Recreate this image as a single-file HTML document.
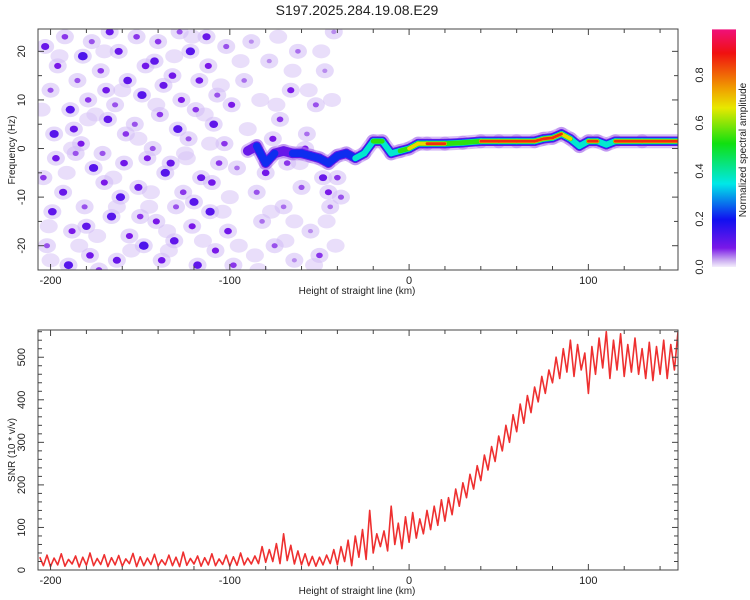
<!DOCTYPE html>
<html><head><meta charset="utf-8"><style>
html,body{margin:0;padding:0;background:#fff;}
svg{display:block;font-family:"Liberation Sans",sans-serif;}
</style></head><body>
<svg id="c" width="750" height="600" xmlns="http://www.w3.org/2000/svg">
<defs>
<clipPath id="clipTop"><rect x="38" y="29" width="640" height="241"/></clipPath>
<clipPath id="clipBot"><rect x="38" y="330" width="640" height="240"/></clipPath>
<linearGradient id="cbar" x1="0" y1="1" x2="0" y2="0">
<stop offset="0" stop-color="#f4eefc"/>
<stop offset="0.03" stop-color="#c8a8f0"/>
<stop offset="0.08" stop-color="#7a18e8"/>
<stop offset="0.2" stop-color="#1010f0"/>
<stop offset="0.35" stop-color="#00e8e8"/>
<stop offset="0.52" stop-color="#10e010"/>
<stop offset="0.67" stop-color="#e8e800"/>
<stop offset="0.75" stop-color="#f0a000"/>
<stop offset="0.9" stop-color="#f01010"/>
<stop offset="1" stop-color="#f0107a"/>
</linearGradient>
</defs>
<text x="357" y="15" font-size="14" text-anchor="middle" fill="#222">S197.2025.284.19.08.E29</text>
<g id="topPanel"></g>
<g id="botPanel"></g>
<g id="cbPanel"></g>
</svg>
<script>
// ---- data ----
const xDomain = [-207, 150];
const fDomain = [-25, 24.6];
const snrDomain = [0, 564];
const snrStartKm = -206;
const snrStepKm = 2;
const snrValues = [
30,10,35,8,28,12,38,9,25,14,
33,7,30,11,40,10,27,13,36,8,
29,12,34,9,26,15,39,8,31,10,
28,13,37,9,24,12,35,10,30,8,
42,11,27,14,33,9,29,12,38,10,
26,13,35,9,31,11,40,12,28,14,
33,15,55,18,48,20,62,15,85,22,
58,14,45,12,38,10,32,9,30,12,
35,15,48,12,55,20,70,10,80,30,
95,25,140,40,85,55,92,45,150,60,
110,50,125,65,135,75,120,85,140,95,
150,105,165,115,170,130,190,150,205,170,
225,190,245,210,270,235,290,255,315,280,
340,300,365,325,390,345,410,370,430,395,
455,415,470,440,500,450,520,465,540,455,
530,470,510,415,525,460,545,475,560,450,
540,470,555,455,530,465,545,460,520,450,
535,445,525,460,540,450,530,470,560];
const ridgeX = [-90,-85,-80,-75,-70,-65,-60,-55,-50,-45,-40,-35,-30,-25,-20,-15,-10,-5,0,5,10,20,30,40,50,60,70,75,80,85,90,95,100,105,110,115,130,150];
const ridgeF = [-0.5,0.5,-3,-1,-0.5,-1,-1,-1.5,-2,-3,-1.5,-1,-2,-1,1.5,1.5,-1,-0.5,0,1,1,1,1.2,1.5,1.5,1.5,1.5,2,2.2,3,2,0.5,1.5,1.5,0.8,1.5,1.5,1.5];
const ridgeAmp = [0.15,0.2,0.3,0.2,0.18,0.2,0.22,0.2,0.2,0.3,0.25,0.3,0.5,0.45,0.6,0.6,0.5,0.55,0.8,0.7,0.9,0.85,0.6,0.95,0.97,0.97,0.95,0.9,0.92,0.9,0.75,0.5,0.88,0.88,0.4,0.95,0.97,0.95];
const blobX = [-203,-200,-198,-204,-199,-202,-196,-197,-192,-189,-186,-193,-188,-190,-185,-187,-182,-179,-176,-181,-178,-183,-177,-180,-172,-168,-170,-166,-173,-167,-171,-169,-162,-158,-161,-156,-164,-157,-159,-163,-152,-149,-146,-151,-148,-153,-147,-150,-142,-139,-136,-141,-138,-143,-137,-140,-132,-129,-126,-131,-128,-133,-127,-130,-122,-119,-116,-121,-118,-123,-117,-120,-112,-109,-106,-111,-108,-113,-107,-110,-102,-99,-96,-101,-98,-103,-92,-88,-85,-82,-78,-75,-72,-70,-66,-64,-62,-60,-57,-55,-52,-50,-47,-44,-42,-40,-38,-80,-76,-68,-58,-48,-45];
const blobF = [21,12,3,-6,-13,-20,17,-2,23,8,-1,-9,-17,-24,14,4,19,10,-4,-12,-22,1,22,-16,16,6,-7,-14,-25,24,-1,12,20,3,-10,-18,9,14,-3,-23,23,11,-2,-8,-20,5,17,-14,18,7,-5,-15,-23,0,13,22,15,4,-9,-19,24,-3,10,-12,20,8,-6,-16,-24,2,14,-11,17,5,-3,-13,-21,23,11,-7,21,9,-4,-17,-24,1,14,22,-9,-15,18,-20,6,-12,12,-23,20,-8,3,-17,9,-22,16,-12,24,-6,-10,-5,2,-3,0,-6,-9];
const blobAmp = [.1,.06,.12,.07,.11,.06,.08,.09,.07,.12,.06,.1,.08,.12,.06,.1,.13,.07,.12,.06,.09,.08,.06,.11,.07,.11,.08,.12,.07,.1,.06,.09,.1,.07,.12,.08,.06,.11,.09,.1,.07,.12,.08,.1,.13,.06,.09,.07,.11,.07,.12,.08,.09,.06,.1,.07,.09,.12,.07,.11,.06,.1,.08,.06,.12,.07,.1,.08,.11,.06,.09,.12,.08,.11,.07,.12,.08,.1,.06,.09,.06,.08,.05,.09,.07,.07,.05,.04,.06,.05,.04,.06,.07,.05,.08,.04,.05,.06,.05,.04,.06,.07,.04,.05,.04,.07,.06,.09,.08,.07,.08,.1,.08];
const faintX = [-205,-201,-195,-191,-184,-179,-174,-170,-165,-160,-155,-151,-145,-141,-135,-131,-125,-121,-115,-111,-105,-100,-95,-90,-86,-83,-77,-73,-69,-65,-61,-56,-53,-49,-46,-43,-41,-200,-188,-175,-163,-144,-134,-124,-114,-104,-94,-84,-74,-64];
const faintF = [8,-16,19,-5,-20,6,-18,20,-6,12,-21,2,-12,9,-17,19,-1,23,-19,1,13,-10,-20,4,-22,10,-13,23,-19,16,-3,12,-24,20,-15,10,-20,-23,0,7,-12,-9,-21,-2,7,-13,18,-25,9,-15];
const xTicks = [-200,-100,0,100];
const fTicks = [-20,-10,0,10,20];
const snrTicks = [0,100,200,300,400,500];
const cbTicks = [0,0.2,0.4,0.6,0.8];
const cbTickLabels = ["0.0","0.2","0.4","0.6","0.8"];

// ---- layout ----
const L=38,R=678,T1=29,B1=270,T2=330,B2=570;
const NS="http://www.w3.org/2000/svg";
const sx = v => L + (v-xDomain[0])/(xDomain[1]-xDomain[0])*(R-L);
const sf = v => B1 - (v-fDomain[0])/(fDomain[1]-fDomain[0])*(B1-T1);
const ss = v => B2 - (v-snrDomain[0])/(snrDomain[1]-snrDomain[0])*(B2-T2);
const cmStops=[[0,[244,238,252]],[0.03,[200,168,240]],[0.08,[122,24,232]],[0.2,[16,16,240]],[0.35,[0,232,232]],[0.52,[16,224,16]],[0.67,[232,232,0]],[0.75,[240,160,0]],[0.9,[240,16,16]],[1,[240,16,122]]];
function cmap(v){v=Math.max(0,Math.min(1,v));for(let i=1;i<cmStops.length;i++){if(v<=cmStops[i][0]){const a=cmStops[i-1],b=cmStops[i],t=(v-a[0])/(b[0]-a[0]);return 'rgb('+a[1].map((c,k)=>Math.round(c+(b[1][k]-c)*t)).join(',')+')';}}return 'rgb(240,16,122)';}
function mk(tag,attrs,parent){const e=document.createElementNS(NS,tag);for(const k in attrs)e.setAttribute(k,attrs[k]);parent.appendChild(e);return e;}

const panelTop=document.getElementById('topPanel'), panelBot=document.getElementById('botPanel'), panelCb=document.getElementById('cbPanel');

// ---- spectrogram ----
const gT=mk('g',{'clip-path':'url(#clipTop)'},panelTop);


for(let i=0;i<faintX.length;i++){
  const h=mk('ellipse',{cx:sx(faintX[i]),cy:sf(faintF[i]),rx:9,ry:7,fill:'rgba(215,195,245,0.55)'},gT);
  
  
}
for(let i=0;i<blobX.length;i++){
  const h=mk('ellipse',{cx:sx(blobX[i]),cy:sf(blobF[i]),rx:9,ry:7.5,fill:'rgba(210,188,245,0.55)'},gT);
  
  
}
for(let i=0;i<blobX.length;i++){
  const r=1.5+blobAmp[i]*26;
  const c=mk('ellipse',{cx:sx(blobX[i]),cy:sf(blobF[i]),rx:r,ry:r*0.85,fill:cmap(blobAmp[i])},gT);
  
  
}
const levels=[0.03,0.08,0.2,0.35,0.52,0.67,0.85];
const widths=[14,9.5,7.5,6,4.8,3.8,2.8];
levels.forEach((lv,li)=>{
  for(let i=0;i<ridgeX.length-1;i++){
    const a=Math.min(ridgeAmp[i],ridgeAmp[i+1]);
    if(a<lv) continue;
    const ln=mk('line',{x1:sx(ridgeX[i]),y1:sf(ridgeF[i]),x2:sx(ridgeX[i+1]),y2:sf(ridgeF[i+1]),stroke:cmap(lv+0.02),'stroke-width':widths[li],'stroke-linecap':'round',opacity:li===0?0.45:1},gT);
    
    
  }
});

// ---- SNR line ----
let d='';
snrValues.forEach((v,i)=>{d+=(i?'L':'M')+sx(snrStartKm+i*snrStepKm).toFixed(1)+','+ss(v).toFixed(1);});
const gB=mk('g',{'clip-path':'url(#clipBot)'},panelBot);
const pl=mk('path',{d:d,fill:'none',stroke:'#ee3030','stroke-width':1.6,'stroke-linejoin':'round'},gB);



// ---- axes ----
function frame(parent,t,b,name){
  const r=mk('rect',{x:L,y:t,width:R-L,height:b-t,fill:'none',stroke:'#444','stroke-width':1},parent);
  
  
}
function xAxis(parent,t,b,ly){
  for(let v=-200;v<=150;v+=20){
    const x=sx(v),len=(v%100===0)?6:4;
    mk('line',{x1:x,y1:b,x2:x,y2:b-len,stroke:'#444'},parent);
    mk('line',{x1:x,y1:t,x2:x,y2:t+len,stroke:'#444'},parent);
  }
  xTicks.forEach(v=>{
    const tx=mk('text',{x:sx(v),y:ly,'font-size':11,'text-anchor':'middle',fill:'#222'},parent);
    tx.textContent=String(v);
    
    
  });
  const xt=mk('text',{x:357,y:ly+10,'font-size':10,'text-anchor':'middle',fill:'#222'},parent);
  xt.textContent='Height of straight line (km)';
  
  
}
frame(panelTop,T1,B1,'spectrogram-frame');
xAxis(panelTop,T1,B1,284);
for(let v=-25;v<=25;v+=5){const y=sf(v);if(y<T1||y>B1)continue;const len=(v%10===0)?6:4;
  mk('line',{x1:L,y1:y,x2:L+len,y2:y,stroke:'#444'},panelTop);mk('line',{x1:R,y1:y,x2:R-len,y2:y,stroke:'#444'},panelTop);}
fTicks.forEach(v=>{
  const y=sf(v);
  const tx=mk('text',{x:25,y:y,'font-size':11,'text-anchor':'middle',fill:'#222',transform:'rotate(-90 25 '+y+')'},panelTop);
  tx.textContent=String(v);
  
  
});
const yt=mk('text',{x:15,y:150,'font-size':10,'text-anchor':'middle',fill:'#222',transform:'rotate(-90 15 150)'},panelTop);
yt.textContent='Frequency (Hz)';



frame(panelBot,T2,B2,'snr-frame');
xAxis(panelBot,T2,B2,584);
for(let v=0;v<=560;v+=20){const y=ss(v);const len=(v%100===0)?6:4;
  mk('line',{x1:L,y1:y,x2:L+len,y2:y,stroke:'#444'},panelBot);mk('line',{x1:R,y1:y,x2:R-len,y2:y,stroke:'#444'},panelBot);}
snrTicks.forEach(v=>{
  const y=ss(v);
  const tx=mk('text',{x:25,y:y,'font-size':11,'text-anchor':'middle',fill:'#222',transform:'rotate(-90 25 '+y+')'},panelBot);
  tx.textContent=String(v);
  
  
});
const st=mk('text',{x:15,y:450,'font-size':10,'text-anchor':'middle',fill:'#222',transform:'rotate(-90 15 450)'},panelBot);
st.textContent='SNR (10 * v/v)';



// ---- colorbar ----
const cbY0=267, cbPer=240;
const cr=mk('rect',{x:712,y:cbY0-cbPer*0.99,width:24,height:cbPer*0.99,fill:'url(#cbar)'},panelCb);


cbTicks.forEach((v,i)=>{
  const y=cbY0-v*cbPer;
  const tx=mk('text',{x:703,y:y,'font-size':11,'text-anchor':'middle',fill:'#222',transform:'rotate(-90 703 '+y+')'},panelCb);
  tx.textContent=cbTickLabels[i];
  
  
});
const ct=mk('text',{x:746,y:150,'font-size':10,'text-anchor':'middle',fill:'#222',transform:'rotate(-90 746 150)'},panelCb);
ct.textContent='Normalized spectral amplitude';


</script>
</body></html>
